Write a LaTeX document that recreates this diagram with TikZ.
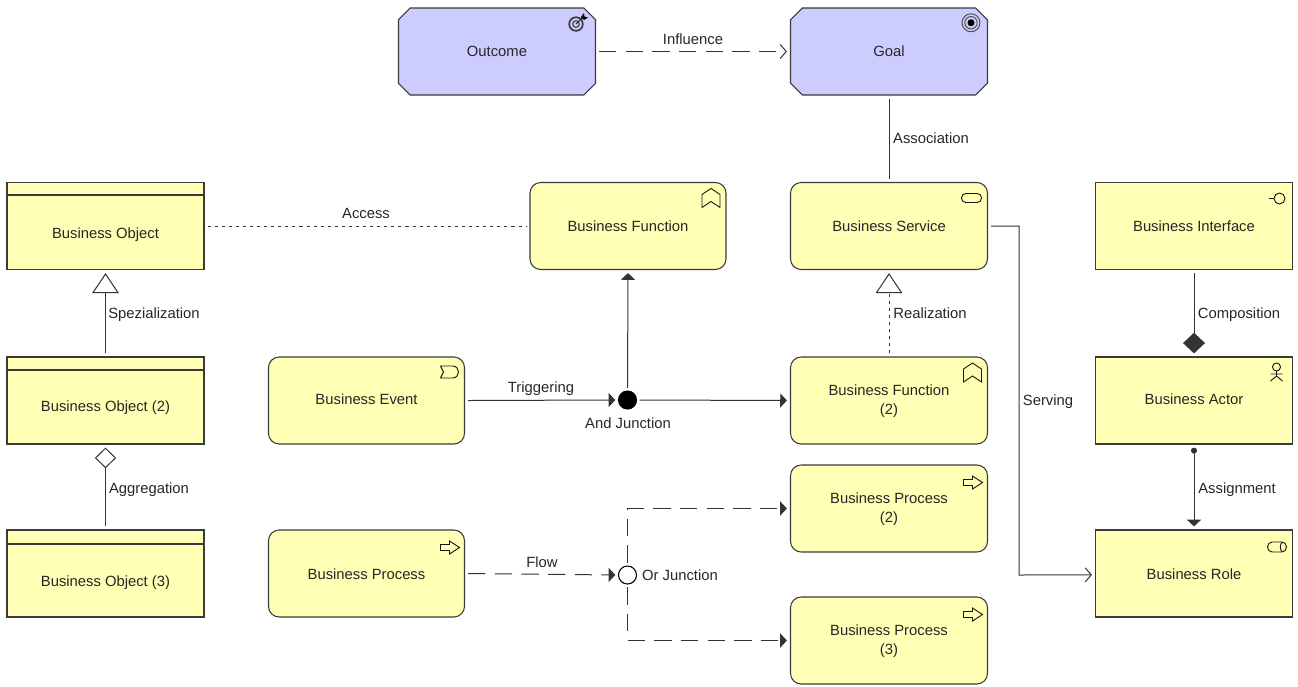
\documentclass[tikz,border=0pt]{standalone}
\usepackage{fontspec}
\setmainfont{Liberation Sans}
\usetikzlibrary{arrows.meta,shapes.misc}
\definecolor{bizfill}{HTML}{FFFFB5}
\definecolor{motfill}{HTML}{CCCCFF}
\definecolor{edgecol}{HTML}{3A3A3A}
\definecolor{txtcol}{HTML}{262626}
\newcommand{\lowtext}[2]{\smash{\raisebox{-#1pt}{#2}}}
\newcommand{\firstline}{\rule{0pt}{9.2pt}}
\tikzset{
  x=0.75pt, y=-0.75pt,
  boxbase/.style={draw=edgecol, line width=0.8pt, fill=bizfill, minimum width=147.75pt, minimum height=65.25pt,
    inner sep=0pt, outer sep=2.7pt, align=center, text=txtcol, font=\fontsize{11.1}{14}\selectfont},
  plainbox/.style={boxbase, rectangle},
  roundbox/.style={boxbase, rectangle, rounded corners=8pt},
  narrowbox/.style={roundbox, minimum width=147pt},
  goalbox/.style={boxbase, fill=motfill, chamfered rectangle, chamfered rectangle corners={north west,north east,south west,south east},
    chamfered rectangle xsep=4.8pt, chamfered rectangle ysep=4.8pt, chamfered rectangle angle=45},
  lbl/.style={text=txtcol, font=\fontsize{11.1}{13}\selectfont, inner sep=0pt, text height=8pt, text depth=0pt},
  conn/.style={draw=black!80, line width=0.75pt},
  longdash/.style={dash pattern=on 13pt off 7pt},
  shortdash/.style={dash pattern=on 2.3pt off 3pt},
  openhead/.style={-{Straight Barb[length=4.5pt,width=10.5pt,line width=0.75pt]}},
  solidhead/.style={-{Triangle[length=5pt,width=10.5pt]}},
  hollowhead/.style={-{Triangle[open,length=15pt,width=20pt,fill=white,line width=0.75pt]}},
  icon/.style={draw=black!90, line width=0.7pt, fill=none},
  junc/.style={circle, draw=black, line width=0.8pt, minimum size=13.5pt, inner sep=0pt, outer sep=2.4pt},
  fnicon/.pic={\draw[icon,line join=miter] (-24,12)--(-15,6)--(-6,12)--(-6,25)--(-15,19)--(-24,25)--cycle;},
  procicon/.pic={\draw[icon] (-24,14.5)--(-15,14.5)--(-15,11)--(-5,17.5)--(-15,24)--(-15,20.5)--(-24,20.5)--cycle;},
}
\begin{document}
\begin{tikzpicture}
\useasboundingbox (0,0) rectangle (1298,686);
% nodes
\node[goalbox] (outcome) at (497,51.5) {Outcome};
\node[goalbox] (goal) at (889,51.5) {Goal};
\node[plainbox] (obj) at (105.5,226) {\lowtext{9.2}{Business Object}};
\node[plainbox] (obj2) at (105.5,400.5) {\lowtext{8.1}{Business Object (2)}};
\node[plainbox] (obj3) at (105.5,573.5) {\lowtext{9.6}{Business Object (3)}};
\node[narrowbox] (func) at (628,226) {Business Function};
\node[roundbox] (serv) at (889,226) {Business Service};
\node[plainbox] (iface) at (1194,226) {Business Interface};
\node[narrowbox] (event) at (366.5,400.5) {\lowtext{2.85}{Business Event}};
\node[roundbox] (func2) at (889,400.5) {\firstline Business Function\\(2)};
\node[plainbox] (actor) at (1194,400.5) {\lowtext{2.85}{Business Actor}};
\node[narrowbox] (proc) at (366.5,573.5) {\lowtext{4.35}{Business Process}};
\node[roundbox] (proc2) at (889,508.5) {\firstline Business Process\\(2)};
\node[roundbox] (proc3) at (889,640.5) {\firstline Business Process\\(3)};
\node[plainbox] (role) at (1194,573.5) {\lowtext{4.35}{Business Role}};
\node[junc, fill=black] (andj) at (627.5,400) {};
\node[junc, fill=white] (orj) at (627.5,575) {};
% object dividers
\draw[draw=edgecol, line width=0.8pt] (7,195) -- (204,195);
\draw[draw=edgecol, line width=0.8pt] (7,370) -- (204,370);
\draw[draw=edgecol, line width=0.8pt] (7,544) -- (204,544);
% icons
\pic at ([shift={(-2.7pt,-2.7pt)}]func.north east) {fnicon};
\pic at ([shift={(-2.7pt,-2.7pt)}]func2.north east) {fnicon};
\pic at ([shift={(-2.7pt,-2.7pt)}]proc.north east) {procicon};
\pic at ([shift={(-2.7pt,-2.7pt)}]proc2.north east) {procicon};
\pic at ([shift={(-2.7pt,-2.7pt)}]proc3.north east) {procicon};
\begin{scope}[shift={([shift={(-2.7pt,-2.7pt)}]serv.north east)}]
  \draw[icon, rounded corners=3.2pt] (-26,11) rectangle (-6,20);
\end{scope}
\begin{scope}[shift={([shift={(-2.7pt,-2.7pt)}]event.north east)}]
  \draw[icon] (-24,9) -- (-12,9) .. controls (-4,9) and (-4,21) .. (-12,21) -- (-24,21) -- (-21,15) -- cycle;
\end{scope}
\begin{scope}[shift={([shift={(-2.7pt,-2.7pt)}]iface.north east)}]
  \draw[icon] (-13,16) circle[radius=5.5];
  \draw[icon] (-24,16) -- (-18.5,16);
\end{scope}
\begin{scope}[shift={([shift={(-2.7pt,-2.7pt)}]actor.north east)}]
  \draw[icon] (-16,10) circle[radius=4];
  \draw[icon] (-16,14) -- (-16,19) (-22,17) -- (-10,17) (-22,24) -- (-16,19) -- (-10,24);
\end{scope}
\begin{scope}[shift={([shift={(-2.7pt,-2.7pt)}]role.north east)}]
  \draw[icon, rounded corners=3.6pt] (-25,12) rectangle (-6,22);
  \draw[icon] (-10,12) .. controls (-13,14) and (-13,20) .. (-10,22);
\end{scope}
\begin{scope}[shift={([shift={(74.25pt,32.6pt)}]goal.center)}]
  \draw[draw=black!70, line width=0.7pt] (-17,14.7) circle[radius=9];
  \draw[draw=black!70, line width=0.7pt] (-17,14.7) circle[radius=6.2];
  \fill[black] (-17,14.7) circle[radius=3.5];
\end{scope}
\begin{scope}[shift={([shift={(74.25pt,32.6pt)}]outcome.center)}]
  \draw[draw=black!80, line width=1.2pt] (-20,16) circle[radius=6.8];
  \draw[draw=black!70, line width=0.9pt] (-20,16) circle[radius=3.3];
  \draw[icon] (-20,16) -- (-13,9);
  \fill[black] (-15,9) -- (-12,5) -- (-11.5,8.5) -- (-8,9.5) -- (-12,12) -- cycle;
\end{scope}
% connectors
\draw[conn, longdash, openhead] (outcome.east) -- (goal.west);
\draw[conn] (goal.south) -- (serv.north);
\draw[conn, shortdash] (obj.east) -- (func.west);
\draw[conn, hollowhead] (obj2.north) -- (obj.south);
\draw[conn, -{Diamond[open,length=15.5pt,width=16pt,fill=white,line width=0.75pt]}] (obj3.north) -- (obj2.south);
\draw[conn, solidhead] (event.east) -- (andj.west);
\draw[conn, solidhead] (andj.north) -- (func.south);
\draw[conn, solidhead] (andj.east) -- (func2.west);
\draw[conn, shortdash, hollowhead] (func2.north) -- (serv.south);
\draw[conn, -{Diamond[length=15.5pt,width=16.5pt]}] (iface.south) -- (actor.north);
\draw[conn, {Circle[length=4.5pt]}-{Triangle[length=5pt,width=10.5pt]}] (actor.south) -- (role.north);
\coordinate (sbend) at (1019,575);
\draw[conn, openhead] (serv.east) -| (sbend) -- ([yshift=-1pt]role.west);
\draw[conn, longdash, solidhead] (proc.east) -- (orj.west);
\draw[conn, longdash, solidhead] (orj.north) |- (proc2.west);
\draw[conn, longdash, solidhead] (orj.south) |- (proc3.west);
% labels
\node[lbl] (lInf) at (693,39) {Influence};
\node[lbl] (lAsc) at (931,138) {Association};
\node[lbl] (lAcc) at (366,213) {Access};
\node[lbl] (lSpz) at (154,313) {Spezialization};
\node[lbl] (lAgg) at (149,488) {Aggregation};
\node[lbl] (lTrg) at (541,387) {Triggering};
\node[lbl] (lAnd) at (628,423) {And Junction};
\node[lbl] (lRlz) at (930,313) {Realization};
\node[lbl] (lCmp) at (1239,313) {Composition};
\node[lbl] (lAsg) at (1237,488) {Assignment};
\node[lbl] (lSrv) at (1048,400) {Serving};
\node[lbl] (lFlw) at (542,562) {Flow};
\node[lbl] (lOr) at (680,575) {Or Junction};
\end{tikzpicture}
\end{document}
